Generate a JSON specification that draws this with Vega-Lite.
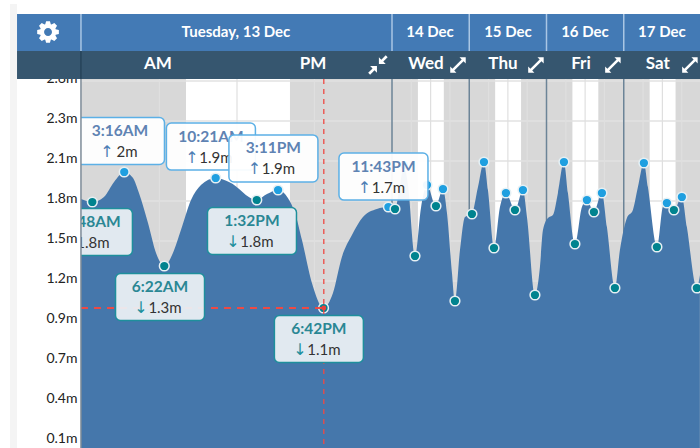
{
"$schema":"https://vega.github.io/schema/vega-lite/v6.json",
"autosize":"none","width":619,"height":448,
"padding":{"left":81,"top":0,"right":0,"bottom":0},
"background":"white",
"view":{"stroke":null},
"config":{"view":{"stroke":null},"font":"Lato","text":{"font":"Lato"}},
"datasets":{
"one":[{"note":"annotation"}],
"sky":[{"phase":"night","h":-0.08,"h2":120},{"phase":"day","h":8.05,"h2":16.1},{"phase":"day","h":32.05,"h2":40.1},{"phase":"day","h":56.05,"h2":64.1},{"phase":"day","h":80.05,"h2":88.1},{"phase":"day","h":104.05,"h2":112.1}],
"gridH":[{"m":2.599,"h":-0.08,"h2":120},{"m":2.319,"h":-0.08,"h2":120},{"m":2.039,"h":-0.08,"h2":120},{"m":1.759,"h":-0.08,"h2":120},{"m":1.479,"h":-0.08,"h2":120},{"m":1.199,"h":-0.08,"h2":120}],
"gridV":[{"h":6},{"h":12},{"h":18},{"h":30},{"h":36},{"h":42},{"h":54},{"h":60},{"h":66},{"h":78},{"h":84},{"h":90},{"h":102},{"h":108},{"h":114}],
"days":[{"h":24},{"h":48},{"h":72},{"h":96}],
"headerSep":[{"h":-0.08},{"h":24},{"h":48},{"h":72},{"h":96}],
"tide":[{"h":-0.08,"m":1.773},{"h":0.8,"m":1.752},{"h":1.7,"m":1.787},{"h":2.48,"m":1.892},{"h":3.27,"m":1.962},{"h":3.95,"m":1.92},{"h":4.41,"m":1.815},{"h":5.11,"m":1.605},{"h":5.73,"m":1.395},{"h":6.37,"m":1.304},{"h":7.04,"m":1.395},{"h":7.66,"m":1.556},{"h":8.44,"m":1.766},{"h":9.21,"m":1.871},{"h":10.35,"m":1.92},{"h":11.38,"m":1.892},{"h":13.53,"m":1.766},{"h":14.32,"m":1.808},{"h":15.18,"m":1.836},{"h":15.94,"m":1.78},{"h":16.49,"m":1.675},{"h":17.03,"m":1.486},{"h":17.8,"m":1.185},{"h":18.7,"m":1.01},{"h":19.43,"m":1.115},{"h":20.12,"m":1.367},{"h":20.9,"m":1.521},{"h":21.75,"m":1.647},{"h":22.83,"m":1.703},{"h":23.72,"m":1.717},{"h":24.93,"m":1.703},{"h":26.48,"m":1.871},{"h":27.73,"m":2.011},{"h":28.97,"m":1.871},{"h":31.14,"m":1.374},{"h":33.0,"m":1.71},{"h":34.87,"m":1.871},{"h":37.66,"m":1.724},{"h":39.84,"m":1.843},{"h":41.08,"m":1.675},{"h":42.63,"m":1.255},{"h":43.56,"m":1.059},{"h":45.12,"m":1.416},{"h":46.67,"m":1.647},{"h":48.84,"m":1.668},{"h":50.71,"m":1.857},{"h":52.57,"m":2.032},{"h":53.81,"m":1.836},{"h":55.68,"m":1.43},{"h":57.54,"m":1.717},{"h":59.4,"m":1.815},{"h":62.2,"m":1.696},{"h":64.68,"m":1.836},{"h":65.93,"m":1.647},{"h":68.41,"m":1.101},{"h":69.96,"m":1.297},{"h":70.9,"m":1.556},{"h":72.45,"m":1.64},{"h":74.0,"m":1.661},{"h":75.55,"m":1.815},{"h":77.42,"m":2.032},{"h":78.66,"m":1.815},{"h":80.83,"m":1.458},{"h":83.0,"m":1.717},{"h":84.56,"m":1.766},{"h":86.73,"m":1.682},{"h":89.22,"m":1.815},{"h":90.77,"m":1.577},{"h":93.25,"m":1.15},{"h":94.81,"m":1.416},{"h":96.98,"m":1.64},{"h":98.84,"m":1.696},{"h":100.4,"m":1.857},{"h":102.26,"m":2.025},{"h":103.5,"m":1.857},{"h":106.3,"m":1.437},{"h":108.16,"m":1.717},{"h":109.4,"m":1.745},{"h":111.58,"m":1.696},{"h":114.06,"m":1.787},{"h":115.61,"m":1.577},{"h":118.71,"m":1.15},{"h":119.65,"m":1.241}],
"extremes":[{"h":0.8,"m":1.752,"kind":"low"},{"h":3.27,"m":1.962,"kind":"high"},{"h":6.37,"m":1.304,"kind":"low"},{"h":10.35,"m":1.92,"kind":"high"},{"h":13.53,"m":1.766,"kind":"low"},{"h":15.18,"m":1.836,"kind":"high"},{"h":18.7,"m":1.01,"kind":"low"},{"h":23.72,"m":1.717,"kind":"high"},{"h":24.93,"m":1.703,"kind":"low"},{"h":27.73,"m":2.011,"kind":"high"},{"h":31.14,"m":1.374,"kind":"low"},{"h":34.87,"m":1.871,"kind":"high"},{"h":37.66,"m":1.724,"kind":"low"},{"h":39.84,"m":1.843,"kind":"high"},{"h":43.56,"m":1.059,"kind":"low"},{"h":48.84,"m":1.668,"kind":"low"},{"h":52.57,"m":2.032,"kind":"high"},{"h":55.68,"m":1.43,"kind":"low"},{"h":59.4,"m":1.815,"kind":"high"},{"h":62.2,"m":1.696,"kind":"low"},{"h":64.68,"m":1.836,"kind":"high"},{"h":68.41,"m":1.101,"kind":"low"},{"h":77.42,"m":2.032,"kind":"high"},{"h":80.83,"m":1.458,"kind":"low"},{"h":84.56,"m":1.766,"kind":"high"},{"h":86.73,"m":1.682,"kind":"low"},{"h":89.22,"m":1.815,"kind":"high"},{"h":93.25,"m":1.15,"kind":"low"},{"h":102.26,"m":2.025,"kind":"high"},{"h":106.3,"m":1.437,"kind":"low"},{"h":109.4,"m":1.745,"kind":"high"},{"h":111.58,"m":1.696,"kind":"low"},{"h":114.06,"m":1.787,"kind":"high"},{"h":118.71,"m":1.15,"kind":"low"}],
"callouts":[
{"time":"3:16AM","value":"2m","arrow":"↑","kind":"high","h":2.94,"m":2.179},
{"time":"10:21AM","value":"1.9m","arrow":"↑","kind":"high","h":9.98,"m":2.14},
{"time":"11:43PM","value":"1.7m","arrow":"↑","kind":"high","h":23.34,"m":1.93},
{"time":"12:48AM","value":"1.8m","arrow":"↓","kind":"low","h":0.46,"m":1.542},
{"time":"6:22AM","value":"1.3m","arrow":"↓","kind":"low","h":6.04,"m":1.087},
{"time":"1:32PM","value":"1.8m","arrow":"↓","kind":"low","h":13.16,"m":1.549},
{"time":"6:42PM","value":"1.1m","arrow":"↓","kind":"low","h":18.34,"m":0.793},
{"time":"3:11PM","value":"1.9m","arrow":"↑","kind":"high","h":14.82,"m":2.057}
],
"dates":[{"label":"Tuesday, 13 Dec","h":11.92},{"label":"14 Dec","h":35.8},{"label":"15 Dec","h":60.02},{"label":"16 Dec","h":83.94},{"label":"17 Dec","h":107.85}],
"periods":[{"label":"AM","h":5.88},{"label":"PM","h":17.88},{"label":"Wed","h":34.56},{"label":"Thu","h":58.47},{"label":"Fri","h":82.7},{"label":"Sat","h":106.6}],
"expand":[{"h":44.5},{"h":68.72},{"h":92.63},{"h":116.55}]
},
"resolve":{"scale":{"color":"independent","fill":"independent","stroke":"independent"}},
"layer":[
{"data":{"name":"sky"},"mark":{"type":"rect"},"encoding":{
"x":{"field":"h","type":"quantitative","axis":null,"scale":{"domain":[0,24,120],"range":[1,311,620],"zero":false,"nice":false}},
"x2":{"field":"h2"},
"y":{"datum":2.613,"type":"quantitative","scale":{"domain":[0.03,3.166],"zero":false,"nice":false},
"axis":{"values":[0.1,0.38,0.66,0.94,1.22,1.5,1.78,2.06,2.34,2.62],"labelExpr":"format(datum.value,'.1f')+'m'","title":null,"domain":false,"ticks":false,"grid":false,"labelFont":"Lato","labelFontSize":14,"labelColor":"#222222","labelPadding":4,"labelOverlap":false,"labelBound":false,"labelFlush":false}},
"y2":{"datum":0.03},
"color":{"field":"phase","type":"nominal","legend":null,"scale":{"domain":["night","day"],"range":["#d8d8d8","#ffffff"]}}}},
{"data":{"name":"gridH"},"mark":{"type":"rule","color":"#e2e2e2","strokeWidth":1.5},"encoding":{"x":{"field":"h","type":"quantitative","axis":null},"x2":{"field":"h2"},"y":{"field":"m","type":"quantitative"}}},
{"data":{"name":"gridV"},"mark":{"type":"rule","color":"#dfdfdf","strokeWidth":1.2},"encoding":{"x":{"field":"h","type":"quantitative","axis":null},"y":{"datum":2.613,"type":"quantitative"},"y2":{"datum":0.03}}},
{"data":{"name":"days"},"mark":{"type":"rule","color":"#6c8497","strokeWidth":1.5},"encoding":{"x":{"field":"h","type":"quantitative","axis":null},"y":{"datum":2.613,"type":"quantitative"},"y2":{"datum":0.03}}},
{"data":{"name":"tide"},"mark":{"type":"area","interpolate":"monotone","color":"#4577ab","line":false},"encoding":{"x":{"field":"h","type":"quantitative","axis":null},"y":{"field":"m","type":"quantitative"},"y2":{"datum":0.03}}},
{"data":{"name":"extremes"},"mark":{"type":"point","filled":true,"size":95,"opacity":1,"stroke":"#e6f0f4","strokeWidth":1.5},"encoding":{"x":{"field":"h","type":"quantitative","axis":null},"y":{"field":"m","type":"quantitative"},"color":{"field":"kind","type":"nominal","legend":null,"scale":{"domain":["high","low"],"range":["#1f9fe0","#00838f"]}}}},
{"data":{"name":"one"},"mark":{"type":"rule","color":"#ee4a44","strokeWidth":1.3,"strokeDash":[5,5]},"encoding":{"x":{"datum":18.72,"type":"quantitative","axis":null},"y":{"datum":2.613,"type":"quantitative"},"y2":{"datum":0.03}}},
{"data":{"name":"one"},"mark":{"type":"rule","color":"#ee4a44","strokeWidth":2,"strokeDash":[7,6]},"encoding":{"x":{"datum":-0.08,"type":"quantitative","axis":null},"x2":{"datum":18.72},"y":{"datum":1.01,"type":"quantitative"}}},
{"data":{"name":"one"},"mark":{"type":"point","filled":true,"color":"#e8413c","size":24,"opacity":1},"encoding":{"x":{"datum":18.72,"type":"quantitative","axis":null},"y":{"datum":1.01,"type":"quantitative"}}},

{"data":{"name":"callouts"},"transform":[{"filter":"datum.time!='3:11PM'"}],"mark":{"type":"rect","width":89,"height":47,"cornerRadius":5,"strokeWidth":1.5,"clip":true,"fillOpacity":0.94},"encoding":{"x":{"field":"h","type":"quantitative","axis":null},"y":{"field":"m","type":"quantitative"},"fill":{"field":"kind","type":"nominal","legend":null,"scale":{"domain":["high","low"],"range":["#ffffff","#ebf0f4"]}},"stroke":{"field":"kind","type":"nominal","legend":null,"scale":{"domain":["high","low"],"range":["#5cb0e6","#1e8f9c"]}}}},
{"data":{"name":"callouts"},"transform":[{"filter":"datum.time!='3:11PM'"}],"mark":{"type":"text","font":"Lato","fontSize":15.5,"fontWeight":"bold","dy":-10,"clip":true},"encoding":{"x":{"field":"h","type":"quantitative","axis":null},"y":{"field":"m","type":"quantitative"},"text":{"field":"time"},"color":{"field":"kind","type":"nominal","legend":null,"scale":{"domain":["high","low"],"range":["#5f83b3","#2a8794"]}}}},
{"data":{"name":"callouts"},"transform":[{"filter":"datum.time!='3:11PM' && datum.value!='2m'"}],"mark":{"type":"text","font":"Lato","fontSize":15,"color":"#333333","dy":11,"dx":5,"clip":true},"encoding":{"x":{"field":"h","type":"quantitative","axis":null},"y":{"field":"m","type":"quantitative"},"text":{"field":"value"}}},
{"data":{"name":"callouts"},"transform":[{"filter":"datum.time!='3:11PM' && datum.value!='2m'"}],"mark":{"type":"text","font":"DejaVu Sans","fontSize":16,"dy":11,"dx":-19,"clip":true},"encoding":{"x":{"field":"h","type":"quantitative","axis":null},"y":{"field":"m","type":"quantitative"},"text":{"field":"arrow"},"color":{"field":"kind","type":"nominal","legend":null,"scale":{"domain":["high","low"],"range":["#4f7fb5","#1e8f9c"]}}}},
{"data":{"name":"callouts"},"transform":[{"filter":"datum.value=='2m'"}],"mark":{"type":"text","font":"Lato","fontSize":15,"color":"#333333","dy":11,"dx":7,"clip":true},"encoding":{"x":{"field":"h","type":"quantitative","axis":null},"y":{"field":"m","type":"quantitative"},"text":{"field":"value"}}},
{"data":{"name":"callouts"},"transform":[{"filter":"datum.value=='2m'"}],"mark":{"type":"text","font":"DejaVu Sans","fontSize":16,"color":"#4f7fb5","dy":11,"dx":-13,"clip":true},"encoding":{"x":{"field":"h","type":"quantitative","axis":null},"y":{"field":"m","type":"quantitative"},"text":{"field":"arrow"}}},

{"data":{"name":"callouts"},"transform":[{"filter":"datum.time=='3:11PM'"}],"mark":{"type":"rect","width":89,"height":47,"cornerRadius":5,"strokeWidth":1.5,"fill":"#ffffff","fillOpacity":0.94,"stroke":"#5cb0e6"},"encoding":{"x":{"field":"h","type":"quantitative","axis":null},"y":{"field":"m","type":"quantitative"}}},
{"data":{"name":"callouts"},"transform":[{"filter":"datum.time=='3:11PM'"}],"mark":{"type":"text","font":"Lato","fontSize":15.5,"fontWeight":"bold","color":"#5f83b3","dy":-10},"encoding":{"x":{"field":"h","type":"quantitative","axis":null},"y":{"field":"m","type":"quantitative"},"text":{"field":"time"}}},
{"data":{"name":"callouts"},"transform":[{"filter":"datum.time=='3:11PM'"}],"mark":{"type":"text","font":"Lato","fontSize":15,"color":"#333333","dy":11,"dx":5},"encoding":{"x":{"field":"h","type":"quantitative","axis":null},"y":{"field":"m","type":"quantitative"},"text":{"field":"value"}}},
{"data":{"name":"callouts"},"transform":[{"filter":"datum.time=='3:11PM'"}],"mark":{"type":"text","font":"DejaVu Sans","fontSize":16,"color":"#4f7fb5","dy":11,"dx":-19},"encoding":{"x":{"field":"h","type":"quantitative","axis":null},"y":{"field":"m","type":"quantitative"},"text":{"field":"arrow"}}},

{"data":{"name":"one"},"mark":{"type":"rule","color":"#7d8b98","strokeWidth":1.5},"encoding":{"x":{"datum":-0.08,"type":"quantitative","axis":null},"y":{"datum":2.613,"type":"quantitative"},"y2":{"datum":0.03}}},
{"data":{"name":"one"},"mark":{"type":"rect","color":"#f4f4f4","clip":false},"encoding":{"x":{"datum":-5.57,"type":"quantitative","axis":null},"x2":{"datum":-5.03},"y":{"datum":3.138,"type":"quantitative"},"y2":{"datum":0.03}}},
{"data":{"name":"one"},"mark":{"type":"rect","color":"#437ab5"},"encoding":{"x":{"datum":-5.03,"type":"quantitative","axis":null},"x2":{"datum":120},"y":{"datum":3.068,"type":"quantitative"},"y2":{"datum":2.809}}},
{"data":{"name":"one"},"mark":{"type":"rect","color":"#36566f"},"encoding":{"x":{"datum":-5.03,"type":"quantitative","axis":null},"x2":{"datum":120},"y":{"datum":2.809,"type":"quantitative"},"y2":{"datum":2.613}}},
{"data":{"name":"headerSep"},"mark":{"type":"rule","color":"#a9c6e4","strokeWidth":1.5},"encoding":{"x":{"field":"h","type":"quantitative","axis":null},"y":{"datum":3.068,"type":"quantitative"},"y2":{"datum":2.809}}},
{"data":{"name":"one"},"mark":{"type":"rule","color":"#1f3a4f","strokeWidth":1},"encoding":{"x":{"datum":-0.08,"type":"quantitative","axis":null},"y":{"datum":2.809,"type":"quantitative"},"y2":{"datum":2.613}}},
{"data":{"name":"dates"},"mark":{"type":"text","font":"Lato","fontSize":15,"fontWeight":"bold","color":"#ffffff"},"encoding":{"x":{"field":"h","type":"quantitative","axis":null},"y":{"datum":2.942,"type":"quantitative"},"text":{"field":"label"}}},
{"data":{"name":"periods"},"mark":{"type":"text","font":"Lato","fontSize":17,"fontWeight":"bold","color":"#ffffff"},"encoding":{"x":{"field":"h","type":"quantitative","axis":null},"y":{"datum":2.718,"type":"quantitative"},"text":{"field":"label"}}},
{"data":{"name":"expand"},"mark":{"type":"point","filled":true,"opacity":1,"color":"#ffffff","size":240,"shape":"M0.2,-1 L1,-1 L1,-0.2 L0.72,-0.48 L-0.48,0.72 L-0.2,1 L-1,1 L-1,0.2 L-0.72,0.48 L0.48,-0.72 Z"},"encoding":{"x":{"field":"h","type":"quantitative","axis":null},"y":{"datum":2.711,"type":"quantitative"}}},
{"data":{"name":"one"},"mark":{"type":"point","filled":true,"opacity":1,"color":"#ffffff","size":380,"shape":"M0.1,-0.1 L0.1,-0.8 L0.35,-0.55 L0.8,-1 L1,-0.8 L0.55,-0.35 L0.8,-0.1 Z M-0.1,0.1 L-0.1,0.8 L-0.35,0.55 L-0.8,1 L-1,0.8 L-0.55,0.35 L-0.8,0.1 Z"},"encoding":{"x":{"datum":22.91,"type":"quantitative","axis":null},"y":{"datum":2.711,"type":"quantitative"}}},
{"data":{"name":"one"},"mark":{"type":"point","filled":true,"opacity":1,"color":"#ffffff","size":484,"shape":"M.695,-.253 L.985,-.174 L.985,.174 L.695,.253 L.671,.313 L.819,.574 L.574,.819 L.313,.671 L.253,.695 L.174,.985 L-.174,.985 L-.253,.695 L-.313,.671 L-.574,.819 L-.819,.574 L-.671,.313 L-.695,.253 L-.985,.174 L-.985,-.174 L-.695,-.253 L-.671,-.313 L-.819,-.574 L-.574,-.819 L-.313,-.671 L-.253,-.695 L-.174,-.985 L.174,-.985 L.253,-.695 L.313,-.671 L.574,-.819 L.819,-.574 L.671,-.313 Z M.36,0 A.36,.36 0 1 0 -.36,0 A.36,.36 0 1 0 .36,0 Z"},"encoding":{"x":{"datum":-2.63,"type":"quantitative","axis":null},"y":{"datum":2.942,"type":"quantitative"}}}
]
}
